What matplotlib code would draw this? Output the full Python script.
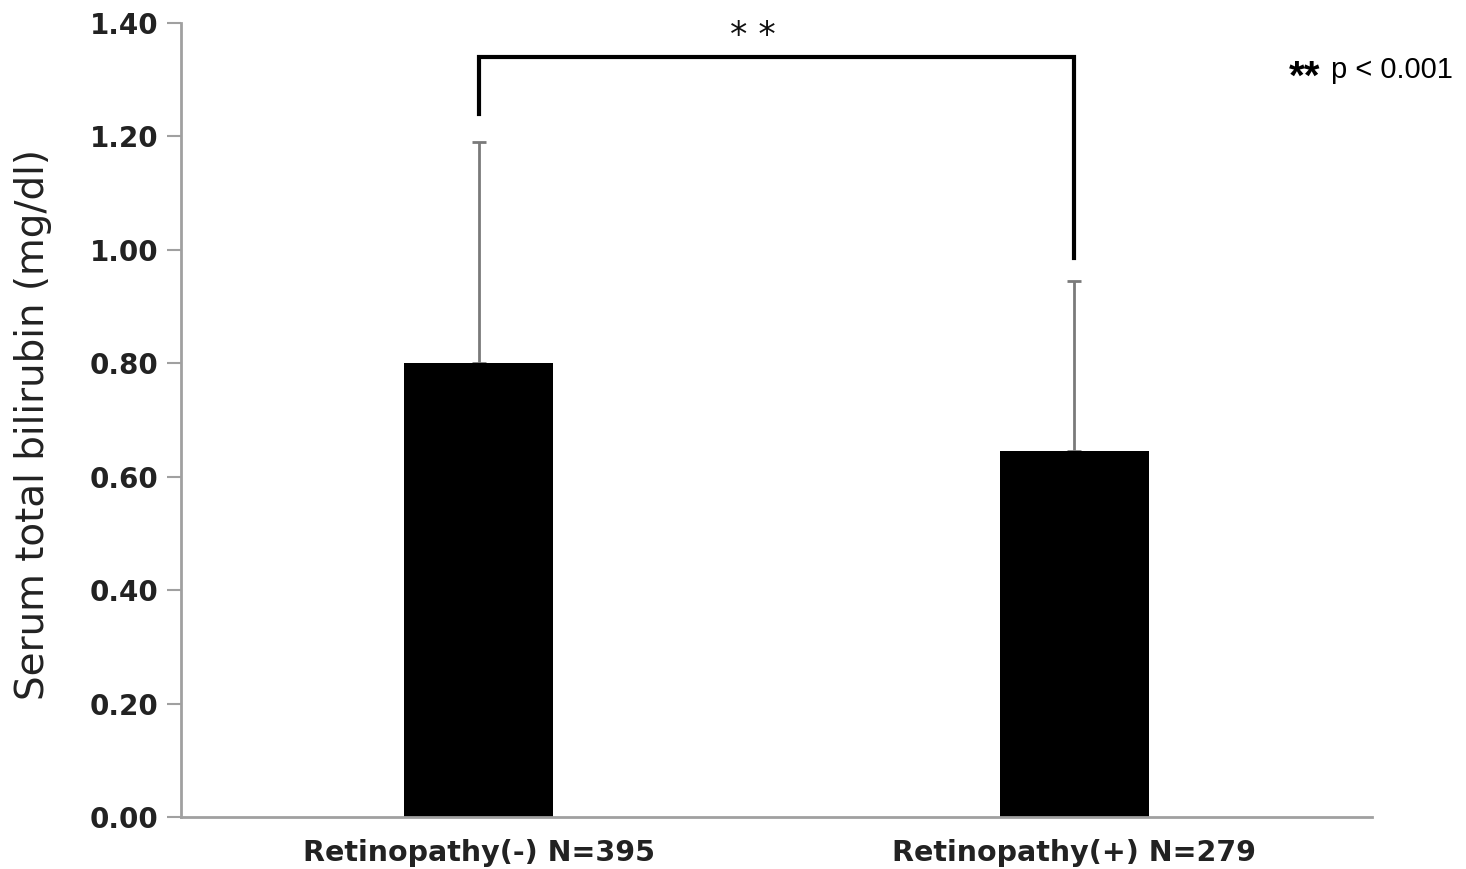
import matplotlib
matplotlib.use("Agg")
import matplotlib.pyplot as plt
import numpy as np

# Serum total bilirubin by retinopathy status
groups = ["Retinopathy(-) N=395", "Retinopathy(+) N=279"]
means = [0.80, 0.645]
sds = [0.39, 0.30]
yticks = [0.00, 0.20, 0.40, 0.60, 0.80, 1.00, 1.20, 1.40]
sig_label = "* *"
note_stars = "**"
note_text = "p < 0.001"

fig = plt.figure(figsize=(14.66, 8.69), dpi=100)
ax = fig.add_axes([0.1235, 0.0598, 0.8125, 0.9137])

x = np.arange(len(groups))
ax.bar(x, means, width=0.25, color="black", zorder=2)
ax.errorbar(x, means, yerr=[np.zeros(len(sds)), sds], fmt="none",
            ecolor="#7a7a7a", elinewidth=2, capsize=5, capthick=2, zorder=1)

# significance bracket
tops = [m + s for m, s in zip(means, sds)]
y_br = 1.34
ax.plot([x[0], x[0], x[1], x[1]], [tops[0] + 0.05, y_br, y_br, tops[1] + 0.04],
        color="black", lw=3, solid_joinstyle="miter", zorder=3)
ax.text(0.46, y_br + 0.008, sig_label, ha="center", va="bottom",
        fontsize=25, color="#111111")

ax.set_xlim(-0.5, 1.5)
ax.set_ylim(0, 1.40)
ax.set_yticks(yticks)
ax.set_yticklabels([f"{v:.2f}" for v in yticks], fontsize=20, fontweight="bold",
                   color="#222222")
ax.set_xticks(x)
ax.set_xticklabels(groups, fontsize=20.5, fontweight="bold", color="#222222")
ax.tick_params(axis="x", length=0, pad=16)
ax.tick_params(axis="y", length=10, width=1.5, color="#a0a0a0", pad=6)

for side in ["top", "right"]:
    ax.spines[side].set_visible(False)
for side in ["left", "bottom"]:
    ax.spines[side].set_color("#a0a0a0")
    ax.spines[side].set_linewidth(2)

ax.set_ylabel("Serum total bilirubin (mg/dl)", fontsize=28, color="#222222")
ax.yaxis.set_label_coords(-0.108, 0.494)

# significance note: bold stars followed by the threshold
t = fig.text(0.991, 0.91, note_text, ha="right", va="baseline", fontsize=21,
             family="Liberation Sans", color="black")
fig.canvas.draw()
bb = t.get_window_extent().transformed(fig.transFigure.inverted())
fig.text(bb.x0 - 0.007, 0.898, note_stars, ha="right", va="baseline", fontsize=29,
         family="Liberation Sans", fontweight="bold", color="black")

fig.savefig("out.png", dpi=100, facecolor="white")
